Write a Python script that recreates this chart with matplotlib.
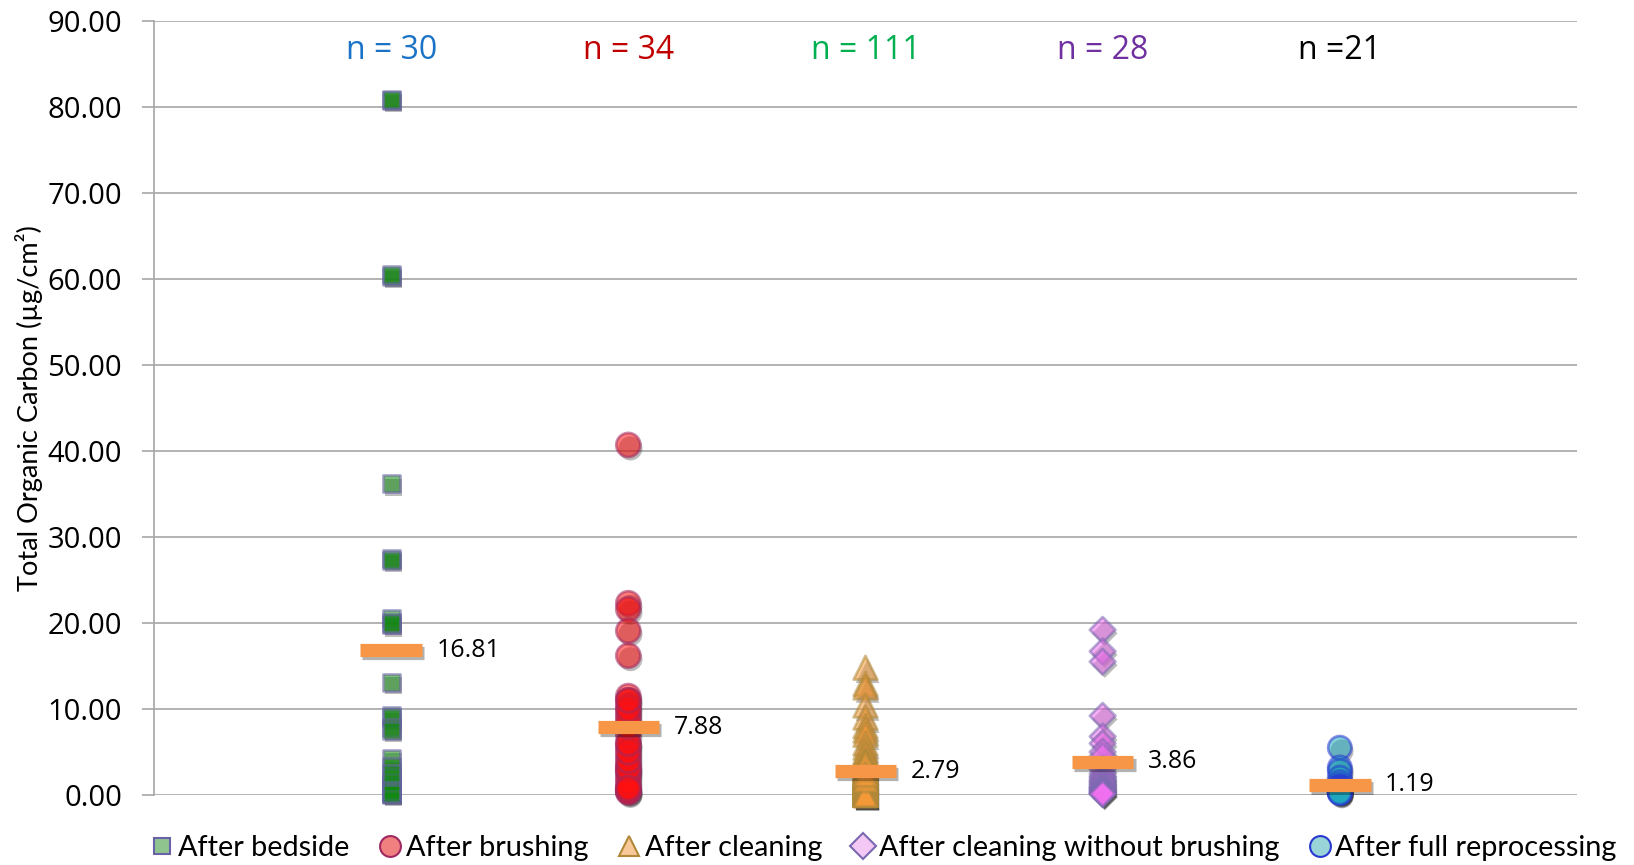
import matplotlib
matplotlib.use("Agg")
import matplotlib.pyplot as plt
import matplotlib.patheffects as pe
from matplotlib.lines import Line2D

categories = ["After bedside", "After brushing", "After cleaning",
              "After cleaning without brushing", "After full reprocessing"]
n_labels = ["n = 30", "n = 34", "n = 111", "n = 28", "n =21"]
n_colors = ["#1a73c6", "#c00000", "#00b050", "#7030a0", "#000000"]
means = [16.81, 7.88, 2.79, 3.86, 1.19]
mean_labels = ["16.81", "7.88", "2.79", "3.86", "1.19"]

bedside = [80.8, 80.9, 60.3, 60.5, 36.2, 27.5, 27.3, 20.5, 19.8, 20.0,
           13.1, 9.3, 9.0, 7.8, 7.5, 4.3, 3.3, 2.0, 1.2, 1.0,
           0.8, 0.5, 0.3, 0.2, 0.1, 0.6, 0.4, 1.5, 2.5, 0.2]
brushing = [40.7, 22.3, 21.6, 19.1, 16.2, 11.5, 11.0, 10.3, 9.5, 8.5,
            7.0, 6.0, 5.5, 4.5, 3.5, 3.2, 2.8, 2.5, 2.0, 0.5,
            0.3, 0.4, 1.0, 1.5, 3.0, 4.0, 5.0, 6.0, 8.0, 9.0,
            10.0, 11.0, 0.6, 0.8]
cleaning = [14.8, 12.9, 12.5, 10.4, 9.0, 8.0, 7.5, 7.0, 6.0, 5.5,
            5.0, 4.8, 4.5, 4.0, 3.9, 3.8, 3.6, 3.5, 3.4, 3.3,
            3.2, 3.1, 3.0, 3.0, 2.9, 2.8, 2.8, 2.7, 2.6, 2.5,
            2.5, 2.4, 2.4, 2.3, 2.3, 2.2, 2.2, 2.1, 2.1, 2.0,
            2.0, 2.0, 1.9, 1.9, 1.8, 1.8, 1.8, 1.7, 1.7, 1.6,
            1.6, 1.6, 1.5, 1.5, 1.5, 1.4, 1.4, 1.4, 1.3, 1.3,
            1.3, 1.2, 1.2, 1.2, 1.1, 1.1, 1.1, 1.0, 1.0, 1.0,
            0.9, 0.9, 0.9, 0.8, 0.8, 0.8, 0.7, 0.7, 0.7, 0.6,
            0.6, 0.6, 0.5, 0.5, 0.5, 0.4, 0.4, 0.4, 0.3, 0.3,
            0.3, 0.2, 0.2, 0.2, 0.1, 0.1, 0.1, 0.1, 0.0, 0.0,
            0.0, 0.0, 0.0, 2.6, 3.4, 1.9, 2.2, 1.7, 2.9, 3.7,
            2.4]
without_brushing = [19.2, 16.7, 15.5, 9.2, 6.8, 6.0, 5.0, 4.5, 3.0, 2.5,
                    2.2, 2.0, 1.8, 1.6, 1.5, 1.3, 1.2, 1.0, 0.9, 0.8,
                    0.7, 0.6, 0.5, 0.4, 0.3, 0.2, 0.2, 0.1]
full_reprocessing = [5.5, 3.2, 2.8, 2.0, 1.5, 1.2, 1.0, 0.8, 0.9, 0.8,
                     0.7, 0.6, 0.6, 0.5, 0.5, 0.5, 0.4, 0.4, 0.3, 0.3, 0.2]

series = [bedside, brushing, cleaning, without_brushing, full_reprocessing]
markers = ["s", "o", "^", "D", "o"]
sizes = [150, 300, 290, 170, 280]
faces = ["#118a11", "#ff1010", "#f59a38", "#f070f0", "#20a8c0"]
edges = ["#6a62a8", "#a02860", "#b08838", "#7a68b0", "#2838d0"]
legend_faces = ["#8fc48f", "#f08080", "#f8c898", "#f4c8f4", "#98d4d8"]

fig = plt.figure(figsize=(16.34, 8.65), dpi=100)
ax = fig.add_axes([154 / 1634, 1 - 795 / 865, (1577 - 154) / 1634, (795 - 21) / 865])
ax.set_xlim(0, 6)
ax.set_ylim(0, 90)

ax.set_yticks(range(0, 91, 10))
ax.set_yticklabels([f"{v:.2f}" for v in range(0, 91, 10)], fontsize=21, family="Open Sans")
ax.yaxis.grid(True, color="#a6a6a6", linewidth=1.2)
ax.set_axisbelow(True)
ax.set_xticks([])
for s in ["top", "right", "bottom"]:
    ax.spines[s].set_visible(False)
ax.spines["left"].set_color("#a6a6a6")
ax.spines["left"].set_linewidth(1.2)
ax.tick_params(axis="y", length=9, color="#a6a6a6", width=1.2, pad=14)
ax.set_ylabel("Total Organic Carbon (µg/cm²)", fontsize=19.5, family="Lato", labelpad=3)

shadow = [pe.SimplePatchShadow(offset=(1.5, -2.5), alpha=0.35, shadow_rgbFace="#404040"), pe.Normal()]

for i, vals in enumerate(series):
    x = i + 1
    ax.scatter([x] * len(vals), vals, marker=markers[i], s=sizes[i],
               facecolor=faces[i], edgecolor=edges[i], linewidth=2.0,
               alpha=0.55, zorder=3, path_effects=shadow, clip_on=False)
    ax.plot([x - 0.13, x + 0.13], [means[i], means[i]], color="#f79646",
            linewidth=9.5, solid_capstyle="butt", zorder=5,
            path_effects=[pe.SimpleLineShadow(offset=(1.5, -2), alpha=0.3), pe.Normal()])
    ax.text(x + 0.19, means[i], mean_labels[i], fontsize=18, family="Open Sans",
            va="center", ha="left", zorder=6)
    ax.text(x, 86.6, n_labels[i], fontsize=23, family="Open Sans",
            color=n_colors[i], ha="center", va="center")

handles = [Line2D([], [], linestyle="none", marker=markers[i],
                  markersize=[12, 15, 15, 13, 15][i],
                  markerfacecolor=legend_faces[i], markeredgecolor=edges[i],
                  markeredgewidth=1.5) for i in range(5)]
fig.legend(handles, categories, loc="center", bbox_to_anchor=(0.540, 1 - 848 / 865),
           ncol=5, frameon=False, prop={"family": "Lato", "size": 20.8},
           handletextpad=0.05, columnspacing=0.9, handlelength=1.0,
           borderaxespad=0)

fig.savefig("out.png", dpi=100)
